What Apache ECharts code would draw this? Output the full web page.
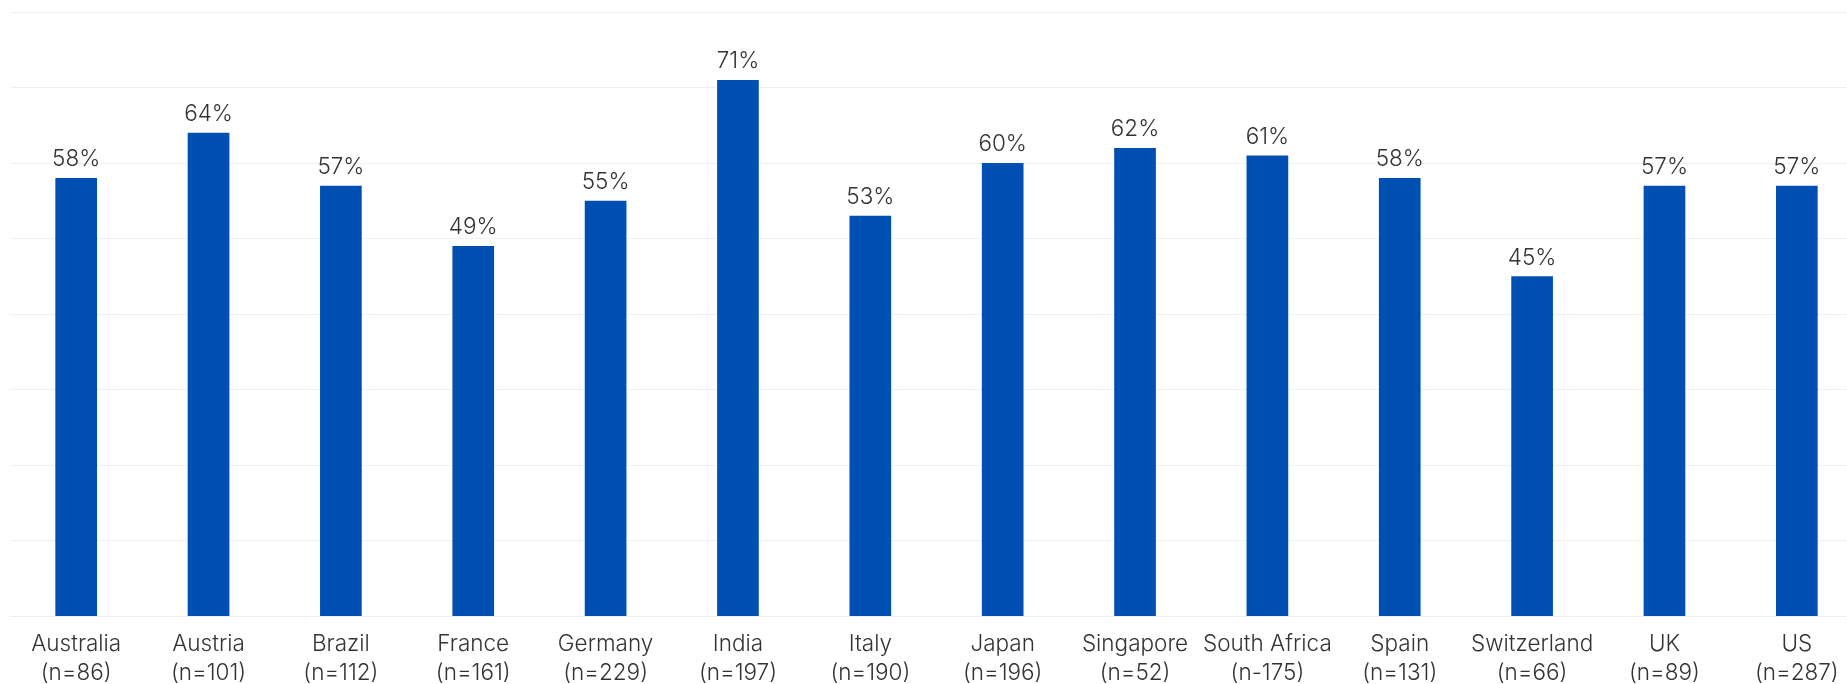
<!DOCTYPE html>
<html>
<head>
<meta charset="utf-8">
<script src="https://cdn.jsdelivr.net/npm/echarts@6/dist/echarts.min.js"></script>
<style>html,body{margin:0;padding:0;background:#fff}#c{width:1847px;height:684px}</style>
</head>
<body>
<div id="c"></div>
<script>
const countries = ["Australia","Austria","Brazil","France","Germany","India","Italy","Japan","Singapore","South Africa","Spain","Switzerland","UK","US"];
const sampleSizes = ["n=86","n=101","n=112","n=161","n=229","n=197","n=190","n=196","n=52","n-175","n=131","n=66","n=89","n=287"];
const values = [58,64,57,49,55,71,53,60,62,61,58,45,57,57];

const categories = countries.map((c,i)=>c+"\n("+sampleSizes[i]+")");
const chart = echarts.init(document.getElementById('c'), null, {renderer:'canvas'});
const font = "Inter, 'Noto Sans', sans-serif";
chart.setOption({
  animation:false,
  grid:{left:10,width:1853,top:12,bottom:68,containLabel:false,outerBoundsMode:'none'},
  xAxis:{type:'category',data:categories,
    axisLine:{show:true,lineStyle:{color:'#eeeeee',width:1}},
    axisTick:{show:false},
    axisLabel:{fontFamily:font,fontSize:22.5,fontWeight:300,color:'#333',lineHeight:29,margin:14,interval:0}
  },
  yAxis:{type:'value',min:0,max:80,interval:10,
    axisLabel:{show:false},axisLine:{show:false},axisTick:{show:false},
    splitLine:{lineStyle:{color:'#f0f0f0',width:1}}
  },
  series:[{type:'bar',data:values,barWidth:'31.5%',
    itemStyle:{color:'#0050B4'},
    label:{show:true,position:'top',distance:7,formatter:'{c}%',fontFamily:font,fontSize:22.5,fontWeight:300,color:'#333'}
  }]
});
</script>
</body>
</html>
